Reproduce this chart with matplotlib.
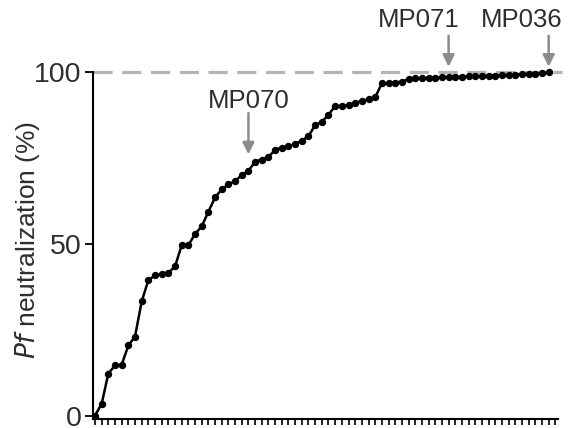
import matplotlib
matplotlib.use("Agg")
import matplotlib.pyplot as plt

plt.rcParams['font.family'] = ['Liberation Sans', 'DejaVu Sans']

# neutralization values, one per sample (sorted)
neut = [0, 3.4, 12.2, 14.6, 14.8, 20.4, 23.0, 33.2, 39.4, 40.8,
        41.1, 41.5, 43.4, 49.6, 49.6, 52.8, 55.1, 59.3, 63.5, 65.8,
        67.3, 68.2, 70.0, 71.2, 73.9, 74.5, 75.3, 77.3, 78.0, 78.4,
        79.0, 80.0, 81.3, 84.5, 85.5, 87.5, 90.1, 90.1, 90.4, 90.9,
        91.6, 92.0, 92.6, 96.7, 96.7, 96.9, 97.2, 97.9, 98.1, 98.2,
        98.3, 98.3, 98.4, 98.5, 98.5, 98.6, 98.7, 98.7, 98.8, 98.9,
        98.9, 99.0, 99.1, 99.2, 99.3, 99.4, 99.5, 99.6, 100]
n_ticks = 70

# labelled samples: (name, index)
labels = ["MP070", "MP071", "MP036"]
label_idx = [23, 53, 68]

txt_col = '#2e2e2e'
arrow_col = '#8c8c8c'

fig = plt.figure(figsize=(5.69, 4.28), dpi=100)
ax = fig.add_axes([0.1634, 0.021, 0.8173, 0.811])

x = list(range(len(neut)))
ax.plot([-0.3, 70], [100, 100], color='#b4b4b4', lw=2.3, dashes=(6, 3), zorder=1, clip_on=False)
ax.plot(x, neut, color='black', lw=1.8, marker='o', ms=4.3, zorder=3, clip_on=False)

ax.set_xlim(-0.3, 69.4)
ax.set_ylim(-1, 100)
ax.set_xticks(range(n_ticks))
ax.set_xticklabels([])
ax.set_yticks([0, 50, 100])
ax.tick_params(axis='x', length=4, width=1.2, direction='out')
ax.tick_params(axis='y', length=6, width=1.3, labelsize=20.5, labelcolor=txt_col, pad=2)
for s in ['top', 'right']:
    ax.spines[s].set_visible(False)
ax.spines['left'].set_bounds(-1, 100)
ax.spines['left'].set_linewidth(1.5)
ax.spines['bottom'].set_linewidth(1.5)

ax.set_ylabel('$\\mathit{Pf}$ neutralization (%)', fontsize=19, color=txt_col)
ax.yaxis.set_label_coords(-0.11, 0.515)

# arrows and labels
arrow_kw = dict(arrowstyle='-|>,head_width=0.35,head_length=0.7', color=arrow_col, lw=1.8,
                shrinkA=0, shrinkB=0)
ax.annotate('', xy=(label_idx[0], 76), xytext=(label_idx[0], 88),
            arrowprops=arrow_kw, annotation_clip=False)
ax.text(label_idx[0], 91.5, labels[0], ha='center', va='center', fontsize=18.5, color=txt_col)
for name, i, tx in zip(labels[1:], label_idx[1:], [48.5, 64.0]):
    ax.annotate('', xy=(i, 101.5), xytext=(i, 110.5),
                arrowprops=arrow_kw, annotation_clip=False)
    ax.text(tx, 115, name, ha='center', va='center', fontsize=18.5, color=txt_col)

fig.savefig('out.png', dpi=100)
